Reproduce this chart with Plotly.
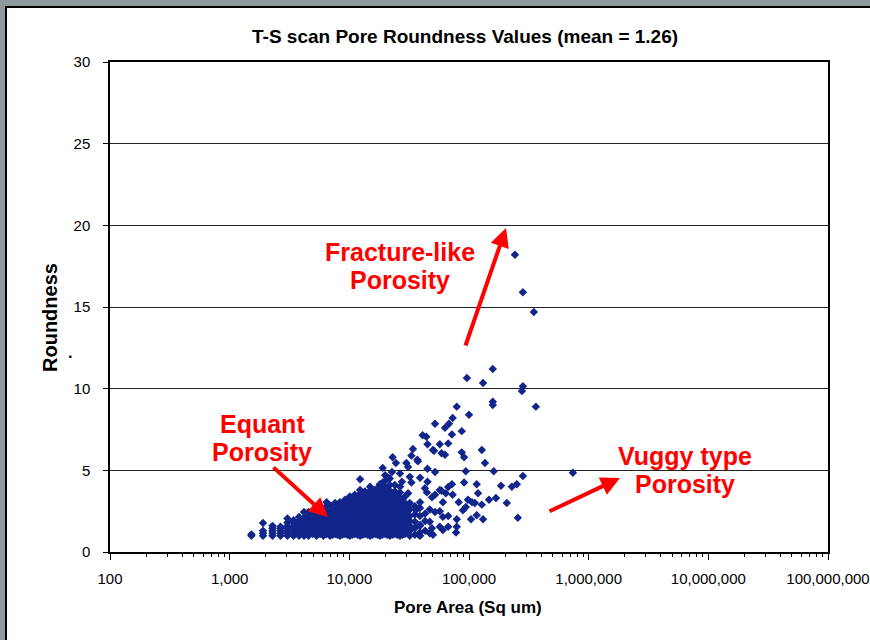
import plotly.graph_objects as go

# ---------------- data ----------------
# dense low-area cluster: one list of roundness values per pore-area column
column_area = [1520, 1900, 2280, 2660, 3040, 3420, 3800, 4180, 4560, 4940,
               5320, 5700, 6080, 6460, 6900, 7600, 8350, 9200, 10100, 11100,
               12300, 13500, 14900, 16400, 18000, 19900, 21800, 24000, 26500,
               29200, 32000, 35300, 38900, 43000, 47000,
               7250, 7950, 8750, 9650, 10600, 11700, 12900, 14200, 15600,
               17200, 18900, 20800, 22900, 25200, 27800, 30500]
column_roundness = [
    [1.0, 1.08],
    [1.0, 1.15, 1.3, 1.78],
    [1.0, 1.15, 1.3, 1.45, 1.6],
    [1.0, 1.15, 1.3, 1.45, 1.55],
    [1.0, 1.15, 1.3, 1.45, 1.6, 1.8, 2.05],
    [1.0, 1.15, 1.3, 1.45, 1.6, 1.8, 1.95],
    [1.0, 1.15, 1.3, 1.5, 1.7, 1.9, 2.15],
    [1.0, 1.15, 1.3, 1.5, 1.7, 1.9, 2.1, 2.45],
    [1.0, 1.2, 1.4, 1.6, 1.8, 2.0, 2.2, 2.45],
    [1.1, 1.3, 1.5, 1.7, 1.9, 2.1, 2.3],
    [1.0, 1.2, 1.4, 1.6, 1.8, 2.0, 2.2, 2.45, 2.7],
    [1.1, 1.3, 1.5, 1.7, 1.9, 2.1, 2.3, 2.55, 2.75],
    [1.0, 1.2, 1.4, 1.6, 1.8, 2.0, 2.2, 2.4, 2.65],
    [1.1, 1.3, 1.5, 1.7, 1.9, 2.1, 2.3, 2.5, 2.8, 3.05],
    [1.0, 1.25, 1.5, 1.75, 2.0, 2.25, 2.5, 2.85],
    [1.1, 1.35, 1.6, 1.85, 2.1, 2.35, 2.6, 3.0],
    [1.0, 1.25, 1.5, 1.75, 2.0, 2.25, 2.5, 2.75, 3.05],
    [1.1, 1.35, 1.6, 1.85, 2.1, 2.35, 2.6, 2.85, 3.2],
    [1.0, 1.25, 1.5, 1.75, 2.0, 2.25, 2.5, 2.75, 3.0, 3.4],
    [1.1, 1.35, 1.6, 1.85, 2.1, 2.35, 2.6, 2.85, 3.1, 3.5],
    [1.0, 1.25, 1.5, 1.75, 2.0, 2.25, 2.5, 2.75, 3.0, 3.25, 3.55, 3.8],
    [1.1, 1.35, 1.6, 1.85, 2.1, 2.35, 2.6, 2.85, 3.1, 3.35, 3.7],
    [1.0, 1.25, 1.5, 1.75, 2.0, 2.25, 2.5, 2.75, 3.0, 3.25, 3.5, 3.75, 4.0],
    [1.1, 1.35, 1.6, 1.85, 2.1, 2.35, 2.6, 2.85, 3.1, 3.35, 3.6, 3.8],
    [1.0, 1.25, 1.5, 1.75, 2.0, 2.25, 2.5, 2.75, 3.0, 3.25, 3.5, 3.8, 4.15],
    [1.1, 1.35, 1.6, 1.85, 2.1, 2.35, 2.6, 2.85, 3.1, 3.35, 3.6, 3.95, 4.35, 4.7],
    [1.0, 1.25, 1.5, 1.75, 2.0, 2.25, 2.5, 2.75, 3.0, 3.25, 3.5, 3.75, 4.1, 4.5],
    [1.1, 1.35, 1.6, 1.85, 2.1, 2.35, 2.6, 2.85, 3.1, 3.35, 3.7, 4.1],
    [1.0, 1.25, 1.5, 1.75, 2.0, 2.25, 2.5, 2.75, 3.0, 3.3, 3.65, 4.0],
    [1.1, 1.35, 1.6, 1.85, 2.1, 2.4, 2.7, 3.0, 3.4],
    [1.0, 1.3, 1.6, 1.9, 2.2, 2.6, 3.0],
    [1.05, 1.45, 1.85, 2.3, 2.8],
    [1.2, 1.6, 2.2, 2.7],
    [1.3, 1.9, 2.35],
    [1.15, 2.6],
    # in-between pores inside the saturated part of the cluster
    [1.05, 1.3, 1.55, 1.8, 2.05, 2.3, 2.6],
    [1.05, 1.3, 1.55, 1.8, 2.05, 2.3, 2.6, 2.85],
    [1.05, 1.3, 1.55, 1.8, 2.05, 2.3, 2.6, 2.9],
    [1.05, 1.3, 1.55, 1.8, 2.05, 2.3, 2.6, 2.9, 3.1],
    [1.05, 1.3, 1.55, 1.8, 2.05, 2.3, 2.6, 2.9, 3.2],
    [1.05, 1.3, 1.55, 1.8, 2.05, 2.3, 2.6, 2.9, 3.2, 3.4],
    [1.05, 1.3, 1.55, 1.8, 2.05, 2.3, 2.6, 2.9, 3.2, 3.5],
    [1.05, 1.3, 1.55, 1.8, 2.05, 2.3, 2.6, 2.9, 3.2, 3.5],
    [1.05, 1.3, 1.55, 1.8, 2.05, 2.3, 2.6, 2.9, 3.2, 3.5, 3.75],
    [1.05, 1.3, 1.55, 1.8, 2.05, 2.3, 2.6, 2.9, 3.2, 3.5, 3.9],
    [1.05, 1.3, 1.55, 1.8, 2.05, 2.3, 2.6, 2.9, 3.2, 3.5, 3.85],
    [1.05, 1.3, 1.55, 1.8, 2.05, 2.3, 2.6, 2.9, 3.2, 3.5, 3.85],
    [1.05, 1.3, 1.55, 1.8, 2.05, 2.3, 2.6, 2.9, 3.2, 3.55],
    [1.05, 1.3, 1.55, 1.8, 2.05, 2.3, 2.6, 2.9, 3.2, 3.5],
    [1.05, 1.3, 1.55, 1.8, 2.05, 2.3, 2.6, 2.9, 3.2],
    [1.2, 1.5, 1.8, 2.1, 2.45, 2.8],
]

# individual scattered pores: (pore area in sq um, roundness)
sparse_points = [
    (242000, 18.2), (282000, 15.9), (348000, 14.7), (158000, 11.2), (96000, 10.65),
    (131000, 10.35), (282000, 10.15), (277000, 9.85), (158000, 9.2), (158000, 9.0),
    (362000, 8.9), (79000, 8.9), (100000, 8.4), (73000, 8.2), (52000, 7.85),
    (68000, 7.85), (63000, 7.6), (87000, 7.4), (72000, 7.2), (41000, 7.15),
    (44000, 7.05), (45000, 6.6), (57000, 6.6), (67000, 6.65), (50000, 6.25),
    (59000, 6.05), (63000, 5.95), (87000, 6.1), (91000, 5.8), (128000, 6.25),
    (34000, 6.3), (37000, 5.65), (23000, 5.8), (30000, 5.45), (136000, 5.45),
    (94000, 4.95), (161000, 4.95), (738000, 4.85), (282000, 4.65), (251000, 4.15),
    (228000, 4.0), (185000, 4.05), (116000, 4.15), (91000, 4.25), (72000, 4.15),
    (67000, 3.98), (59000, 3.75), (64000, 3.6), (73000, 3.5), (119000, 3.6),
    (168000, 3.3), (147000, 3.2), (207000, 3.0), (60500, 3.05), (82000, 3.05),
    (98000, 3.2), (106000, 3.05), (112000, 3.0), (128000, 2.9), (94000, 2.75),
    (89000, 2.55), (57000, 2.5), (67000, 2.2), (79000, 2.0), (104000, 2.0),
    (116000, 2.25), (131000, 2.0), (256000, 2.1), (60500, 1.35), (67000, 1.55),
    (79000, 1.55), (78000, 1.2), (49000, 1.45), (38000, 1.05), (33000, 5.9),
    (24500, 5.45), (31000, 5.2), (19000, 5.15), (45000, 5.1), (52000, 4.9),
    (22700, 4.9), (26500, 4.8), (12300, 4.45), (21000, 4.55), (32000, 4.6),
    (39000, 4.55), (45000, 4.3), (27500, 4.3), (33000, 4.25), (19000, 4.25),
    (17300, 3.8), (31000, 3.6), (57000, 3.8), (52000, 3.5), (44500, 3.65),
    (42800, 3.9), (49000, 3.35), (39000, 3.05), (36000, 2.55), (52000, 2.45),
    (60500, 2.15), (57000, 1.55), (39000, 1.65), (47000, 1.85), (39000, 1.0),
    (50000, 1.05), (37400, 5.55), (51000, 6.2),
]

x_tick_values = [1e2, 1e3, 1e4, 1e5, 1e6, 1e7, 1e8]
x_tick_labels = ["100", "1,000", "10,000", "100,000", "1,000,000", "10,000,000", "100,000,000"]
y_tick_values = [0, 5, 10, 15, 20, 25, 30]

# ---------------- build ----------------
pore_area = []
pore_roundness = []
for a, rs in zip(column_area, column_roundness):
    for r in rs:
        pore_area.append(a)
        pore_roundness.append(r)
for a, r in sparse_points:
    pore_area.append(a)
    pore_roundness.append(r)

FONT = "Liberation Sans, Arial, sans-serif"
RED = "#ff0000"

fig = go.Figure()
fig.add_trace(go.Scatter(
    x=pore_area, y=pore_roundness, mode="markers",
    marker=dict(symbol="diamond", size=6.5, color="#12258c", line=dict(width=0)),
    hoverinfo="x+y", showlegend=False,
))

L, R, T, B = 110, 42, 62, 88
W, H = 870, 640
pw, ph = W - L - R, H - T - B


def px(xp):
    return (xp - L) / pw


def py(yp):
    return (H - B - yp) / ph


annotations = []


def label(text, xp, yp, size, color="black", bold=True, angle=0):
    annotations.append(dict(
        text=("<b>%s</b>" % text) if bold else text, x=px(xp), y=py(yp),
        xref="paper", yref="paper", showarrow=False, textangle=angle,
        xanchor="center", yanchor="middle",
        font=dict(family=FONT, size=size, color=color)))


def arrow(x_tail, y_tail, x_head, y_head):
    annotations.append(dict(
        text="", x=px(x_head), y=py(y_head), xref="paper", yref="paper",
        ax=x_tail - x_head, ay=y_tail - y_head, showarrow=True,
        arrowhead=2, arrowsize=0.95, arrowwidth=4, arrowcolor=RED, standoff=0))


label("T-S scan Pore Roundness Values (mean = 1.26)", 465, 36, 19)
label("Roundness", 50, 318, 20, angle=-90)
label(".", 70, 352, 16)
label("Pore Area (Sq um)", 468, 607, 17)

label("Fracture-like", 400, 251.5, 25, RED)
label("Porosity", 400, 279.5, 25, RED)
label("Equant", 262, 423.5, 25, RED)
label("Porosity", 262, 451.5, 25, RED)
label("Vuggy type", 685, 455.5, 25, RED)
label("Porosity", 685, 483.5, 25, RED)

arrow(465, 347, 506, 228)
arrow(272, 466, 328, 517)
arrow(548, 512, 620, 478)

shapes = [dict(
    type="rect", xref="paper", yref="paper", layer="below",
    x0=px(6), x1=px(900), y0=py(700), y1=py(7),
    fillcolor="white", line=dict(color="black", width=2))]

fig.update_layout(
    width=W, height=H,
    margin=dict(l=L, r=R, t=T, b=B, autoexpand=False),
    paper_bgcolor="#8e9a9c",
    plot_bgcolor="white",
    font=dict(family=FONT, size=15, color="black"),
    annotations=annotations,
    shapes=shapes,
    xaxis=dict(
        type="log", range=[2, 8], tickmode="array",
        tickvals=x_tick_values, ticktext=x_tick_labels,
        ticks="outside", ticklen=6, tickwidth=1, tickcolor="black",
        ticklabelstandoff=6, automargin=False,
        showline=True, linecolor="black", linewidth=1.5, mirror=True,
        showgrid=False, zeroline=False,
        minor=dict(ticks="outside", ticklen=3, tickcolor="black", dtick="D1", showgrid=False),
        tickfont=dict(family=FONT, size=15),
    ),
    yaxis=dict(
        range=[0, 30], tickmode="array", tickvals=y_tick_values,
        ticks="outside", ticklen=5, tickwidth=1, tickcolor="black",
        ticklabelstandoff=10, automargin=False,
        showline=True, linecolor="black", linewidth=1.5, mirror=True,
        showgrid=True, gridcolor="#222222", gridwidth=1, zeroline=False,
        tickfont=dict(family=FONT, size=15),
    ),
)

fig.write_html(
    "out.html",
    config={"displayModeBar": False},
    post_script="document.body.style.margin='0';document.body.style.overflow='hidden';",
)
